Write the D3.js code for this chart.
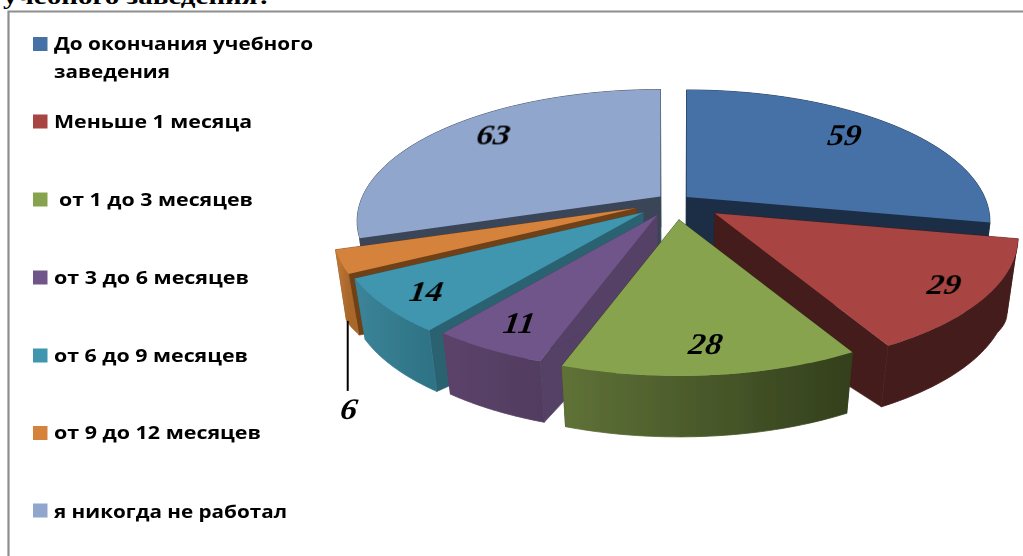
<!DOCTYPE html>
<html><head><meta charset="utf-8">
<script src="https://cdnjs.cloudflare.com/ajax/libs/d3/7.8.5/d3.min.js"></script>
<style>html,body{margin:0;padding:0;background:#fff;overflow:hidden}svg{display:block}</style>
</head><body><svg id="c" width="1023" height="556"></svg>
<script>
// data
const categories = ["До окончания учебного заведения","Меньше 1 месяца"," от 1 до 3 месяцев","от 3 до 6 месяцев","от 6 до 9 месяцев","от 9 до 12 месяцев","я никогда не работал"];
const values = [59,29,28,11,14,6,63];
const titleText = "учебного заведения?";
// styles
const topColors = ["#4571a7","#a84442","#87a34d","#70558b","#3f96ae","#d5823c","#91a6cc"];
const wallColors = ["#1c2e45","#451b1a","#2f3b1a","#553f66","#2a6272","#6f4018","#3a4558"];
const rimLeft = ["#1c2e45","#451b1a","#5f7237","#5c4369","#3c8498","#bf7a38","#3a4558"];
const rimRight = ["#1c2e45","#451b1a","#333f1c","#513c60","#2e7386","#a9672b","#3a4558"];
const explode = [15,49,44,38,42,42,18];
const labelT = [.458,.532,.508,.463,.44,.5,.55];
const labelR = [.768,.84,.834,.835,.844,1,.795];
const drawOrder = [6,0,5,4,3,1,2];
const legendGap = {base:[50,128,206,284,362,439,518], swatch:[44,121.5,199.5,277.5,355.5,433,510.5]};
const legendWidths = [[259,116],[198],[194],[195],[194],[207],[233]];

const svg = d3.select("#c");
const defs = svg.append("defs");
defs.append("filter").attr("id","soft").append("feGaussianBlur").attr("stdDeviation",0.45);
defs.append("filter").attr("id","softer").append("feGaussianBlur").attr("stdDeviation",0.3);

// frame
svg.append("path").attr("d","M1023,11.5H8.5V556").attr("fill","none").attr("stroke","#8e8e8e").attr("stroke-width",2.2);
svg.append("text").attr("x",3).attr("y",4).attr("textLength",269).attr("lengthAdjust","spacingAndGlyphs")
  .attr("font-family","Liberation Serif").attr("font-weight","bold").attr("font-size",23).text(titleText);

// projection
const cx=675, cy=201, RX=298, LABEL_RX=310, RY=127, K=.187, SHRINK=.968;
const project=(a,r,apex,rx=RX)=>{const u=Math.sin(a)*r,v=-Math.cos(a)*r,s=1/(1-K*v);return [apex[0]+u*rx*s,apex[1]+v*RY*s];};
const under=p=>[cx+(p[0]-cx)*SHRINK,p[1]+61+Math.max(0,272-p[1])*.42];
const line=d3.line();
const arcs=d3.pie().sort(null).value(d=>d).startAngle(0).endAngle(2*Math.PI)(values);

const pie=svg.append("g").attr("filter","url(#softer)");
const apexes=arcs.map((d,i)=>{const m=(d.startAngle+d.endAngle)/2;return [cx+Math.sin(m)*explode[i],cy-Math.cos(m)*explode[i]*RY/RX];});

drawOrder.forEach(i=>{
  const d=arcs[i],apex=apexes[i];
  const rim=d3.range(0,41).map(j=>project(d.startAngle+(d.endAngle-d.startAngle)*j/40,1,apex));
  const rimB=rim.map(under);
  const apexB=under(apex);
  const g=pie.append("g");
  const id="rim"+i;
  const xs=rim.map(p=>p[0]);
  const gr=defs.append("linearGradient").attr("id",id).attr("gradientUnits","userSpaceOnUse")
    .attr("x1",d3.min(xs)).attr("x2",d3.max(xs)).attr("y1",0).attr("y2",0);
  gr.append("stop").attr("offset",0).attr("stop-color",rimLeft[i]);
  gr.append("stop").attr("offset",1).attr("stop-color",rimRight[i]);
  [[apex,rim[0],rimB[0],apexB],[apex,rim[40],rimB[40],apexB]].forEach(q=>{
    g.append("path").attr("d",line(q)+"Z").attr("fill",wallColors[i]).attr("stroke",wallColors[i]).attr("stroke-width",.6);
  });
  g.append("path").attr("d",line(rim.concat(rimB.slice().reverse()))+"Z").attr("fill","url(#"+id+")").attr("stroke","url(#"+id+")").attr("stroke-width",.8);
  g.append("path").attr("d",line([apex].concat(rim))+"Z").attr("fill",topColors[i]);
});

// labels
const lab=svg.append("g").attr("filter","url(#softer)").attr("font-family","Liberation Serif").attr("font-style","italic").attr("font-weight","bold").attr("font-size",30).attr("text-anchor","middle").attr("fill","#000");
const putLabel=(x,y,t)=>lab.append("text").attr("transform",`translate(${x},${y}) skewX(-8) scale(1.12,1)`).text(t);
arcs.forEach((d,i)=>{
  const a=d.startAngle+(d.endAngle-d.startAngle)*labelT[i];
  const p=project(a,labelR[i],apexes[i],LABEL_RX);
  if(d.data===d3.min(values)){
    lab.append("path").attr("d",line([[p[0]+19,p[1]+59],[p[0]+19,p[1]+129]])).attr("stroke","#000").attr("stroke-width",2);
    putLabel(p[0]+19,p[1]+157,d.data);
  } else {
    putLabel(p[0],p[1]+9,d.data);
  }
});

// legend
const leg=svg.append("g").attr("filter","url(#soft)").attr("font-family","Open Sans").attr("font-weight",700).attr("font-size",18).attr("fill","#000");
categories.forEach((c,i)=>{
  leg.append("rect").attr("x",33).attr("y",legendGap.swatch[i]-7).attr("width",14.5).attr("height",14).attr("fill",topColors[i]);
  const t=c.trim();
  const lines=i===0?["До окончания учебного","заведения"]:[t];
  lines.forEach((l,j)=>{
    leg.append("text").attr("x",c!==t?59:54).attr("y",legendGap.base[i]+j*28)
      .attr("textLength",legendWidths[i][j]).attr("lengthAdjust","spacingAndGlyphs").text(l);
  });
});
</script></body></html>
